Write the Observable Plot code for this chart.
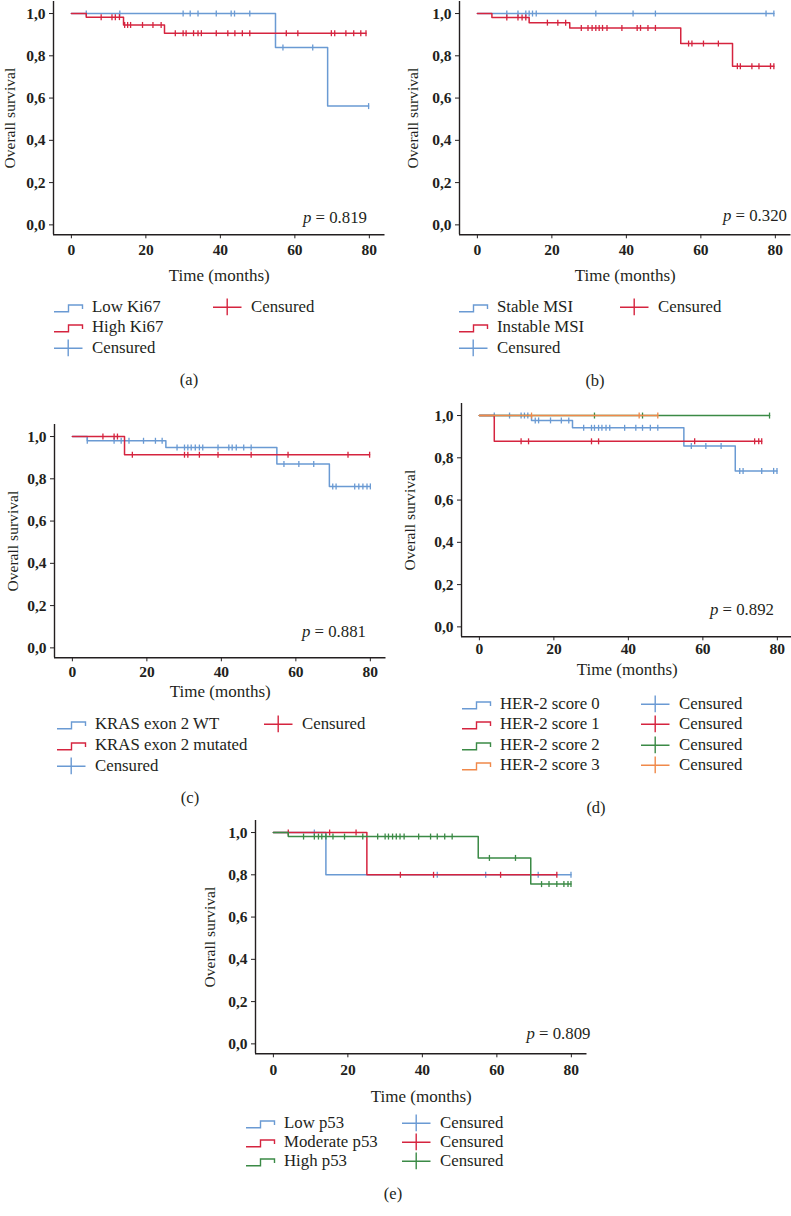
<!DOCTYPE html>
<html><head><meta charset="utf-8">
<script src="https://cdn.jsdelivr.net/npm/d3@7"></script>
<script src="https://cdn.jsdelivr.net/npm/@observablehq/plot@0.6"></script>
<style>
html,body{margin:0;padding:0;background:#fff}
body{width:791px;height:1216px;position:relative;overflow:hidden;font-family:"Liberation Serif",serif;color:#231f20}
.panel{position:absolute}
.panel svg{max-width:none !important;overflow:visible}
.leg{position:absolute;height:20px;white-space:nowrap;font-size:16.8px;line-height:20px}
.leg svg{position:absolute;left:0;top:0}
.leg span{position:absolute;left:38px;top:0}
.cap{position:absolute;font-size:16.5px;line-height:20px;transform:translate(-50%,-50%)}
g[aria-label="y-axis tick label"] text, g[aria-label="x-axis tick label"] text{font-weight:bold}
</style></head><body>
<script>
// ---------- shared axis values ----------
const xTicks = [0, 20, 40, 60, 80];
const yTicks = [0, 0.2, 0.4, 0.6, 0.8, 1.0];
const xDom = [-4.8, 84.2];
const yDom = [-0.047, 1.057];
const blue = "#6a9ad3", red = "#d5243f", green = "#3b8a46", orange = "#f0894a";

// ---------- (a) Ki67 ----------
const aLowT = [0, 54.8, 68.8];
const aLowS = [1, 0.839, 0.562];
const aLowC = [4.0, 13.0, 30.0, 31.9, 34.0, 38.9, 42.9, 43.8, 47.9, 56.8, 64.8, 79.8];
const aHighT = [0, 4.0, 14.0, 25.0];
const aHighS = [1, 0.983, 0.946, 0.907];
const aHighC = [8.0, 10.9, 11.8, 12.9, 14.3, 15.1, 15.9, 19.1, 21.9, 24.1, 27.9, 30.0, 30.8, 32.8, 34.0, 34.9, 38.9, 42.0, 43.9, 45.9, 47.9, 57.7, 60.8, 69.8, 70.7, 73.7, 75.8, 77.7, 79.1];

// ---------- (b) MSI ----------
const bStableT = [0];
const bStableS = [1];
const bStableC = [7.9, 10.9, 13.0, 13.9, 14.8, 15.8, 31.8, 41.8, 47.8, 77.5, 79.6];
const bInstT = [0, 3.9, 13.9, 24.8, 54.6, 68.5];
const bInstS = [1, 0.981, 0.957, 0.932, 0.858, 0.751];
const bInstC = [7.9, 10.9, 12.0, 13.0, 18.8, 21.6, 23.7, 27.9, 29.7, 30.8, 31.8, 32.7, 33.6, 34.8, 38.8, 42.9, 43.8, 45.8, 47.8, 56.7, 57.6, 60.7, 64.7, 69.8, 70.6, 73.7, 75.6, 78.7, 79.6];

// ---------- (c) KRAS ----------
const cWtT = [0, 4.0, 25.1, 54.9, 69.0];
const cWtS = [1, 0.980, 0.948, 0.870, 0.764];
const cWtC = [4.0, 11.2, 13.1, 15.2, 19.1, 22.3, 24.1, 28.1, 30.1, 31.0, 31.9, 33.0, 34.1, 35.0, 39.1, 42.0, 42.9, 44.0, 46.0, 48.0, 56.8, 60.8, 64.8, 69.9, 70.8, 75.8, 76.9, 78.0, 79.1, 80.0];
const cMutT = [0, 14.0];
const cMutS = [1, 0.914];
const cMutC = [8.2, 11.2, 12.1, 16.1, 30.1, 31.0, 34.1, 39.1, 48.0, 57.9, 74.0, 79.8];

// ---------- (d) HER-2 ----------
const d0T = [0, 14.0, 25.0, 54.9, 68.7];
const d0S = [1, 0.977, 0.942, 0.856, 0.738];
const d0C = [4.0, 8.1, 11.2, 12.1, 13.0, 15.0, 15.9, 19.1, 22.0, 24.0, 28.0, 30.1, 30.9, 32.0, 32.9, 34.0, 35.0, 39.0, 42.0, 43.8, 45.9, 47.9, 56.9, 60.8, 64.9, 69.9, 70.8, 75.8, 79.0, 79.9];
const d1T = [0, 4.0];
const d1S = [1, 0.878];
const d1C = [11.2, 13.2, 30.1, 32.0, 57.8, 73.9, 75.0, 75.8];
const d2T = [0];
const d2S = [1];
const d2C = [30.9, 43.8, 77.9];
const d3T = [0];
const d3S = [1];
const d3C = [14.0, 42.9, 47.9];

// ---------- (e) p53 ----------
const eLowT = [0, 14.1];
const eLowS = [1, 0.8];
const eLowC = [11.0, 44.0, 57.0, 71.1, 79.9];
const eModT = [0, 25.1];
const eModS = [1, 0.8];
const eModC = [4.0, 15.1, 22.2, 34.1, 43.0, 61.0, 76.1];
const eHighT = [0, 4.0, 55.0, 69.1];
const eHighS = [1, 0.981, 0.88, 0.756];
const eHighC = [8.1, 11.0, 12.1, 13.0, 14.1, 16.0, 19.1, 24.0, 28.0, 30.0, 30.9, 32.0, 33.0, 34.0, 35.1, 39.0, 42.2, 44.0, 46.0, 48.0, 58.0, 65.0, 72.0, 74.0, 76.1, 78.0, 79.1, 79.9];

// ---------- layout config ----------
const FW = 331.5, FH = 233.3, mL = 60, mR = 12, mT = 10, mB = 60;
const panels = [
  {L: 53, T: 0.7, p: "0.819", pdx: -18, pdy: -17, xlab: 41, ylab: 44, tpad: 5,
   leg: {x1: 54, x2: 213, y: 307, dy: 20.3, rows: 3}, cap: {x: 189, y: 380, t: "(a)"},
   groups: [{name: "Low Ki67", color: blue, T: aLowT, S: aLowS, C: aLowC},
            {name: "High Ki67", color: red, T: aHighT, S: aHighS, C: aHighC}]},
  {L: 459.3, T: 0.7, p: "0.320", pdx: -4, pdy: -19, xlab: 41, ylab: 47, tpad: 5,
   leg: {x1: 459, x2: 620, y: 307, dy: 20.3, rows: 3}, cap: {x: 595, y: 381, t: "(b)"},
   groups: [{name: "Stable MSI", color: blue, T: bStableT, S: bStableS, C: bStableC},
            {name: "Instable MSI", color: red, T: bInstT, S: bInstS, C: bInstC}]},
  {L: 54.3, T: 424.4, p: "0.881", pdx: -20, pdy: -26, xlab: 34, ylab: 42, tpad: 4,
   leg: {x1: 57, x2: 264, y: 724.3, dy: 20.8, rows: 3}, cap: {x: 190, y: 798, t: "(c)"},
   groups: [{name: "KRAS exon 2 WT", color: blue, T: cWtT, S: cWtS, C: cWtC},
            {name: "KRAS exon 2 mutated", color: red, T: cMutT, S: cMutS, C: cMutC}]},
  {L: 461, T: 403.4, p: "0.892", pdx: -19, pdy: -26.7, xlab: 32.3, ylab: 52, tpad: 2,
   leg: {x1: 462, x2: 641, y: 704, dy: 20.3, rows: 4}, cap: {x: 596, y: 808, t: "(d)"},
   groups: [{name: "HER-2 score 0", color: blue, T: d0T, S: d0S, C: d0C},
            {name: "HER-2 score 1", color: red, T: d1T, S: d1S, C: d1C},
            {name: "HER-2 score 2", color: green, T: d2T, S: d2S, C: d2C},
            {name: "HER-2 score 3", color: orange, T: d3T, S: d3S, C: d3C}]},
  {L: 255, T: 820, p: "0.809", pdx: 3.5, pdy: -20, xlab: 42.7, ylab: 46, tpad: 6,
   leg: {x1: 246, x2: 402, y: 1122.7, dy: 19.2, rows: 3}, cap: {x: 393, y: 1194, t: "(e)"},
   groups: [{name: "Low p53", color: blue, T: eLowT, S: eLowS, C: eLowC},
            {name: "Moderate p53", color: red, T: eModT, S: eModS, C: eModC},
            {name: "High p53", color: green, T: eHighT, S: eHighS, C: eHighC}]}
];

const vbar = {draw(ctx, size) { const h = Math.sqrt(size / Math.PI); ctx.moveTo(0, -h); ctx.lineTo(0, h); }};
const fmt = d => d3.format(".1f")(d).replace(".", ",");
function survAt(T, S, t) { let s = S[0]; for (let i = 0; i < T.length; i++) if (T[i] <= t) s = S[i]; return s; }

function build(cfg) {
  const marks = [
    Plot.ruleX([xDom[0]], {stroke: "#231f20", strokeWidth: 1.4}),
    Plot.ruleY([yDom[0]], {stroke: "#231f20", strokeWidth: 1.4}),
    Plot.axisY({ticks: yTicks, tickFormat: fmt, tickSize: 4, tickPadding: 4, label: null, fontSize: 15.5, stroke: "#231f20"}),
    Plot.axisX({ticks: xTicks, tickSize: 4, tickPadding: cfg.tpad, label: null, fontSize: 15.5, stroke: "#231f20"})
  ];
  for (const g of cfg.groups) {
    const end = Math.max(d3.max(g.C), d3.max(g.T));
    const pts = g.T.map((t, i) => ({t, s: g.S[i]}));
    pts.push({t: end, s: g.S[g.S.length - 1]});
    const cens = g.C.map(t => ({t, s: survAt(g.T, g.S, t)}));
    marks.push(Plot.line(pts, {x: "t", y: "s", curve: "step-after", stroke: g.color, strokeWidth: 1.5}));
    marks.push(Plot.dot(cens, {x: "t", y: "s", symbol: vbar, r: 3, stroke: g.color, strokeWidth: 1.3, fill: "none"}));
  }
  marks.push(Plot.text(["Overall survival"], {text: d => d, frameAnchor: "left", rotate: -90, dx: -cfg.ylab, textAnchor: "middle", lineAnchor: "middle", fontSize: 15.6}));
  marks.push(Plot.text(["Time (months)"], {text: d => d, frameAnchor: "bottom", dy: cfg.xlab, textAnchor: "middle", lineAnchor: "middle", fontSize: 17}));
  marks.push(Plot.text(["p = " + cfg.p], {text: d => d, frameAnchor: "bottom-right", dx: cfg.pdx, dy: cfg.pdy, textAnchor: "end", lineAnchor: "middle", fontSize: 16.8}));
  const svg = Plot.plot({
    width: mL + FW + mR, height: mT + FH + mB,
    marginLeft: mL, marginRight: mR, marginTop: mT, marginBottom: mB,
    x: {domain: xDom}, y: {domain: yDom},
    style: {fontFamily: "Liberation Serif", color: "#231f20", background: "transparent", overflow: "visible"},
    marks
  });
  // italic p
  svg.querySelectorAll("text").forEach(t => {
    if (t.textContent === "p = " + cfg.p) {
      t.textContent = "";
      const a = document.createElementNS("http://www.w3.org/2000/svg", "tspan");
      a.setAttribute("font-style", "italic"); a.textContent = "p";
      const b = document.createElementNS("http://www.w3.org/2000/svg", "tspan");
      b.textContent = " = " + cfg.p;
      t.appendChild(a); t.appendChild(b);
    }
  });
  const div = document.createElement("div");
  div.className = "panel";
  div.style.left = (cfg.L - mL) + "px";
  div.style.top = (cfg.T - mT) + "px";
  div.style.width = (mL + FW + mR) + "px";
  div.appendChild(svg);
  document.body.appendChild(div);

  // legend
  const items = cfg.groups.map(g => ({kind: "step", color: g.color, label: g.name}))
    .concat(cfg.groups.map(g => ({kind: "cross", color: g.color, label: "Censured"})));
  items.forEach((it, i) => {
    const col = Math.floor(i / cfg.leg.rows), row = i % cfg.leg.rows;
    const el = document.createElement("div");
    el.className = "leg";
    el.style.left = (col === 0 ? cfg.leg.x1 : cfg.leg.x2) + "px";
    el.style.top = (cfg.leg.y + row * cfg.leg.dy - 10) + "px";
    const path = it.kind === "step" ? "M0,14.7H14.5V8H28.5V12" : "M0,10.3H28.5M14.2,1.5V18.3";
    el.innerHTML = `<svg width="30" height="20"><path d="${path}" fill="none" stroke="${it.color}" stroke-width="1.4"/></svg><span>${it.label}</span>`;
    document.body.appendChild(el);
  });
  const cap = document.createElement("div");
  cap.className = "cap";
  cap.style.left = cfg.cap.x + "px";
  cap.style.top = cfg.cap.y + "px";
  cap.textContent = cfg.cap.t;
  document.body.appendChild(cap);
}
panels.forEach(build);
</script>
</body></html>
